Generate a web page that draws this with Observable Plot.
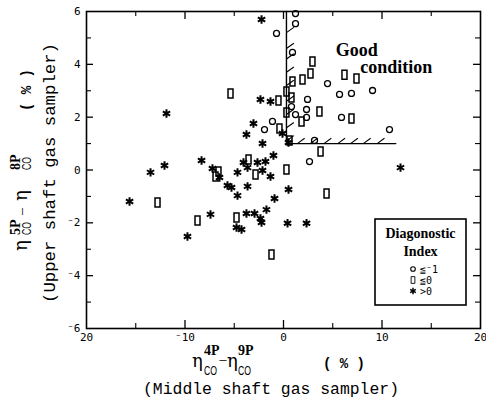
<!DOCTYPE html>
<html><head><meta charset="utf-8">
<script src="https://cdn.jsdelivr.net/npm/d3@7"></script>
<script src="https://cdn.jsdelivr.net/npm/@observablehq/plot@0.6"></script>
<style>body{margin:0;background:#fff}</style>
</head><body><div id="chart"></div>
<script>
// Diagnostic index ≦-1 (circles)
const circleX = [1.22,1.22,-0.71,0.91,4.47,2.44,0.81,2.34,1.22,2.34,-1.12,-1.93,3.15,2.64,5.69,6.90,9.04,5.89,10.76];
const circleY = [5.92,5.54,5.17,4.45,3.27,2.67,2.40,2.29,2.10,1.99,1.84,1.53,1.12,0.32,2.86,2.90,3.01,1.99,1.53];
// Diagnostic index ≦0 (rectangles)
const rectX = [2.94,2.74,1.93,0.91,6.19,7.41,0.30,0.81,-0.51,3.65,0.30,1.83,-0.41,0.61,3.76,0.30,-3.55,-2.84,-5.38,-6.60,-6.90,4.37,6.90,-8.73,-4.77,-1.22,-12.79];
const rectY = [4.11,3.65,3.43,3.35,3.61,3.46,2.97,2.74,2.63,2.21,2.18,1.84,1.57,1.12,0.70,0.02,0.40,-0.17,2.90,-0.06,-0.25,-0.89,1.95,-1.91,-1.80,-3.20,-1.23];
// Diagnostic index >0 (asterisks)
const starX = [-2.23,-11.88,-2.34,-1.32,-3.05,-3.76,-2.13,-0.10,0.51,-1.02,-12.08,-8.32,-7.21,-6.50,-5.69,-5.28,-4.67,-4.67,-3.65,-4.06,-3.65,-2.64,-1.83,-2.13,-1.32,-0.91,0.51,-7.41,-9.75,-4.77,-4.26,-3.76,-2.94,-2.34,-2.23,-1.73,0.41,2.34,-15.63,-13.50,11.88];
const starY = [5.70,2.14,2.67,2.59,1.76,1.34,1.00,1.38,1.04,0.55,0.17,0.36,0.06,-0.28,-0.59,-0.66,-0.09,-0.97,-0.62,0.28,0.09,0.28,0.32,-0.02,-0.25,-1.08,-0.74,-1.68,-2.52,-2.18,-2.25,-1.65,-1.65,-1.84,-1.99,-1.50,-2.02,-2.02,-1.19,-0.09,0.09];

// "Good condition" boundary
const boundaryX = [0.3, 0.3, 11.4];
const boundaryY = [6, 1, 1];
const hatchVertY = [1.1,1.6,2.1,2.6,3.2,3.7,4.2,4.6,5.2];
const hatchHorzX = [1.4,2.7,4.1,5.5,6.8,8.1,9.5];
const annoText = ["Good", "condition"];
const annoX = [5.3, 7.8];
const annoY = [4.55, 3.9];

// Axes
const xTickVals = [-20,-10,0,10,20];
const xTickLabels = ["20","\u207B10","0","10","20"];
const yTickVals = [6,4,2,0,-2,-4,-6];
const yTickLabels = ["6","4","2","0","\u207B2","\u207B4","\u207B6"];
const xMajor = [-10,0,10], xMinor = [-15,-5,5,15];
const yMajor = [-4,-2,0,2,4], yMinor = [-5,-3,-1,1,3,5];
const legendLabels = ["\u2266\u207B1", "\u22660", ">0"];

const circles = circleX.map((x,i)=>({x, y: circleY[i]}));
const rects = rectX.map((x,i)=>({x, y: rectY[i]}));
const stars = starX.map((x,i)=>({x, y: starY[i]}));
const boundary = boundaryX.map((x,i)=>({x, y: boundaryY[i]}));
const hatches = [
  ...hatchVertY.map(y=>({x1: boundaryX[0], y1: y, x2: boundaryX[0]+0.75, y2: y+0.2})),
  ...hatchHorzX.map(x=>({x1: x, y1: boundaryY[1], x2: x+0.75, y2: boundaryY[1]+0.2}))
];
const anno = annoText.map((t,i)=>({t, x: annoX[i], y: annoY[i]}));

const rectSymbol = {draw(ctx){ const w=5, h=9; ctx.moveTo(-w/2,-h/2); ctx.lineTo(w/2,-h/2); ctx.lineTo(w/2,h/2); ctx.lineTo(-w/2,h/2); ctx.closePath(); }};

const W = 486, H = 400, mL = 86, mR = 6, mT = 11, mB = 72;
const fw = W - mL - mR, fh = H - mT - mB;

const svg = Plot.plot({
  width: W, height: H,
  marginLeft: mL, marginRight: mR, marginTop: mT, marginBottom: mB,
  style: {fontFamily: "DejaVu Sans Mono", fontSize: "11px", color: "black", background: "white"},
  x: {domain: [-20, 20]},
  y: {domain: [-6, 6]},
  marks: [
    Plot.frame({stroke: "black", strokeWidth: 1.6}),
    Plot.axisX({ticks: xTickVals, tickSize: 0, tickPadding: 5, tickFormat: d => xTickLabels[xTickVals.indexOf(d)], label: null}),
    Plot.axisY({ticks: yTickVals, tickSize: 0, tickPadding: 6, tickFormat: d => yTickLabels[yTickVals.indexOf(d)], label: null}),
    // inward ticks
    Plot.tickX(xMajor, {x: d=>d, insetTop: fh - 8, stroke: "black", strokeWidth: 1.3}),
    Plot.tickX(xMinor, {x: d=>d, insetTop: fh - 5, stroke: "black", strokeWidth: 1.1}),
    Plot.tickX(xMajor, {x: d=>d, insetBottom: fh - 8, stroke: "black", strokeWidth: 1.3}),
    Plot.tickX(xMinor, {x: d=>d, insetBottom: fh - 5, stroke: "black", strokeWidth: 1.1}),
    Plot.tickY(yMajor, {y: d=>d, insetRight: fw - 7, stroke: "black", strokeWidth: 1.3}),
    Plot.tickY(yMinor, {y: d=>d, insetRight: fw - 5, stroke: "black", strokeWidth: 1.1}),
    Plot.tickY(yMajor, {y: d=>d, insetLeft: fw - 7, stroke: "black", strokeWidth: 1.3}),
    Plot.tickY(yMinor, {y: d=>d, insetLeft: fw - 5, stroke: "black", strokeWidth: 1.1}),
    // boundary of good condition
    Plot.line(boundary, {x: "x", y: "y", stroke: "black", strokeWidth: 1.4}),
    Plot.link(hatches, {x1: "x1", y1: "y1", x2: "x2", y2: "y2", stroke: "black", strokeWidth: 1.1}),
    Plot.text(anno, {x: "x", y: "y", text: "t", textAnchor: "start", lineAnchor: "middle", fontFamily: "Liberation Serif", fontWeight: "bold", fontSize: 18, fill: "black"}),
    // points
    Plot.dot(circles, {x: "x", y: "y", r: 3, symbol: "circle", fill: "none", stroke: "black", strokeWidth: 1.3}),
    Plot.dot(rects, {x: "x", y: "y", symbol: rectSymbol, fill: "none", stroke: "black", strokeWidth: 1.5}),
    Plot.dot(stars, {x: "x", y: "y", r: 4, symbol: "asterisk", fill: "none", stroke: "black", strokeWidth: 2})
  ]
});

const s = d3.select(svg);
function txt(g, x, y, t, o) {
  const e = g.append("text").attr("x", x).attr("y", y).text(t).attr("fill", "black").attr("text-anchor", "start");
  for (const k in o) e.attr(k, o[k]);
  return e;
}
const eta = {"font-family": "DejaVu Serif", "font-size": 18};
const sup = {"font-family": "Liberation Serif", "font-size": 14, "font-weight": "bold"};
const sub = {"font-family": "Liberation Sans", "font-size": 12, "textLength": 13, "lengthAdjust": "spacingAndGlyphs"};
const pct = {"font-family": "Liberation Mono", "font-size": 14, "font-weight": "bold"};
const mono = {"font-family": "Liberation Mono", "font-size": 16};
const dash = {"font-family": "Liberation Serif", "font-size": 14};

// x axis label
const gx = s.append("g");
txt(gx, 192, 367, "\u03B7", eta);
txt(gx, 204, 355, "4P", sup);
txt(gx, 204, 375, "CO", sub);
txt(gx, 219.5, 364, "\u2013", dash);
txt(gx, 227, 367, "\u03B7", eta);
txt(gx, 238, 355, "9P", sup);
txt(gx, 238, 375, "CO", sub);
txt(gx, 323, 368, "( % )", pct);
txt(gx, 143, 394, "(Middle shaft gas sampler)", {...mono, "textLength": 256, "lengthAdjust": "spacingAndGlyphs"});

// y axis label (rotated)
const gy = s.append("g").attr("transform", "rotate(-90)");
txt(gy, -251, 27, "\u03B7", eta);
txt(gy, -235, 20, "5P", sup);
txt(gy, -235, 31, "CO", sub);
txt(gy, -215, 26, "\u2013", dash);
txt(gy, -201, 27, "\u03B7", eta);
txt(gy, -170, 20, "8P", sup);
txt(gy, -170, 31, "CO", sub);
txt(gy, -111, 31, "( % )", pct);
txt(gy, -303, 55, "(Upper shaft gas sampler)", {...mono, "textLength": 260, "lengthAdjust": "spacingAndGlyphs"});

// legend
const gl = s.append("g");
gl.append("rect").attr("x", 375).attr("y", 219).attr("width", 91).attr("height", 86).attr("fill", "white").attr("stroke", "black").attr("stroke-width", 1.6);
txt(gl, 420.5, 238, "Diagonostic", {"font-family": "Liberation Serif", "font-size": 14, "font-weight": "bold", "text-anchor": "middle"});
txt(gl, 420.5, 256, "Index", {"font-family": "Liberation Serif", "font-size": 14, "font-weight": "bold", "text-anchor": "middle"});
const rowsY = [269, 280, 291];
gl.append("circle").attr("cx", 413).attr("cy", rowsY[0]).attr("r", 2.3).attr("fill", "none").attr("stroke", "black").attr("stroke-width", 1.1);
gl.append("path").attr("d", d3.symbol(rectSymbol)()).attr("fill", "none").attr("stroke", "black").attr("stroke-width", 1.2).attr("transform", `translate(413,${rowsY[1]}) scale(0.75)`);
gl.append("path").attr("transform", `translate(413,${rowsY[2]})`).attr("d", d3.symbol(d3.symbolAsterisk, 30)()).attr("fill", "none").attr("stroke", "black").attr("stroke-width", 1.5);
legendLabels.forEach((l, i) => txt(gl, 420, rowsY[i] + 3.5, l, {"font-family": "DejaVu Sans Mono", "font-size": 10}));

document.getElementById("chart").appendChild(svg);
</script>
</body></html>
